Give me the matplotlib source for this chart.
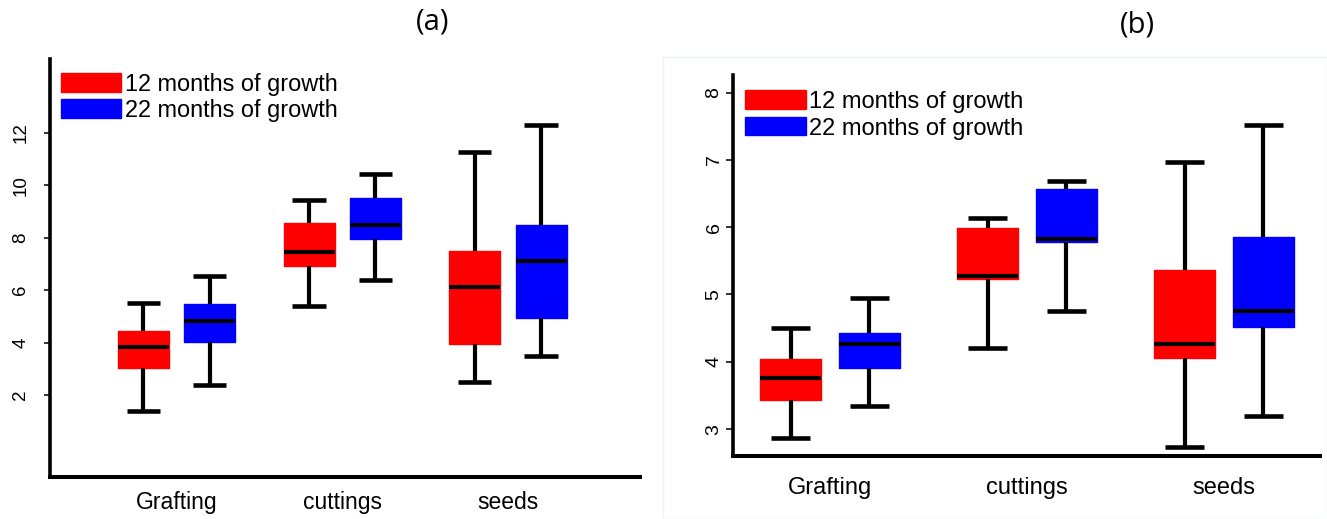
import matplotlib
matplotlib.use("Agg")
import matplotlib.pyplot as plt
from matplotlib.patches import Patch, Rectangle

# ---------------- data ----------------
categories = ['Grafting', 'cuttings', 'seeds']
series_labels = ['12 months of growth', '22 months of growth']
series_colors = ['#ff0000', '#0000ff']

# panel (a)
a12_whislo = [1.37, 5.40, 2.49]
a12_q1 = [3.02, 6.92, 3.96]
a12_med = [3.84, 7.47, 6.13]
a12_q3 = [4.46, 8.56, 7.48]
a12_whishi = [5.51, 9.44, 11.29]

a22_whislo = [2.38, 6.40, 3.48]
a22_q1 = [4.03, 7.94, 4.94]
a22_med = [4.84, 8.47, 7.12]
a22_q3 = [5.47, 9.52, 8.48]
a22_whishi = [6.53, 10.44, 12.30]

a_yticks = [2, 4, 6, 8, 10, 12]

# panel (b)
b12_whislo = [2.86, 4.21, 2.73]
b12_q1 = [3.43, 5.23, 4.05]
b12_med = [3.76, 5.27, 4.26]
b12_q3 = [4.04, 5.99, 5.37]
b12_whishi = [4.50, 6.13, 6.97]

b22_whislo = [3.34, 4.75, 3.20]
b22_q1 = [3.90, 5.78, 4.52]
b22_med = [4.27, 5.82, 4.75]
b22_q3 = [4.42, 6.56, 5.85]
b22_whishi = [4.95, 6.69, 7.52]

b_yticks = [3, 4, 5, 6, 7, 8]

# ---------------- figure ----------------
W, H = 1327, 519
fig = plt.figure(figsize=(W / 100, H / 100), dpi=100)
fig.patch.set_facecolor('white')


def px_axes(l, t, r, b):
    return fig.add_axes([l / W, 1 - b / H, (r - l) / W, (b - t) / H])


def make_stats(lo, q1, med, q3, hi):
    return [dict(whislo=lo[i], q1=q1[i], med=med[i], q3=q3[i], whishi=hi[i], fliers=[])
            for i in range(len(lo))]


def draw_panel(ax, series, offset, width, capw, color_list):
    for k, (st, col) in enumerate(zip(series, color_list)):
        pos = [i + 1 + (offset if k == 1 else -offset) for i in range(len(categories))]
        ax.bxp(st, positions=pos, widths=width, capwidths=capw, patch_artist=True,
               showfliers=False, manage_ticks=False,
               boxprops=dict(facecolor=col, edgecolor=col, linewidth=1.0, joinstyle='round'),
               medianprops=dict(color='black', linewidth=3.0, solid_capstyle='butt'),
               whiskerprops=dict(color='black', linewidth=3.0, solid_capstyle='butt'),
               capprops=dict(color='black', linewidth=3.3, solid_capstyle='butt'))


def style_axes(ax, yticks, ytick_fs, ylen, ypad, xfs, xpad, spine_lw):
    for s in ['top', 'right']:
        ax.spines[s].set_visible(False)
    ax.spines['left'].set_linewidth(spine_lw)
    ax.spines['bottom'].set_linewidth(spine_lw + 0.3)
    ax.set_yticks(yticks)
    ax.set_yticklabels([str(t) for t in yticks], fontsize=ytick_fs,
                       family=['Liberation Sans', 'DejaVu Sans'])
    ax.tick_params(axis='y', length=ylen, width=1.1, pad=ypad, labelrotation=90)
    for lab in ax.get_yticklabels():
        lab.set_va('center')
    ax.set_xticks([1, 2, 3])
    ax.set_xticklabels(categories, fontsize=xfs, family=['Liberation Sans', 'DejaVu Sans'])
    ax.tick_params(axis='x', length=0, pad=xpad)
    ax.set_facecolor('none')


# panel (a)
axA = px_axes(50, 59, 640, 477)
draw_panel(axA,
           [make_stats(a12_whislo, a12_q1, a12_med, a12_q3, a12_whishi),
            make_stats(a22_whislo, a22_q1, a22_med, a22_q3, a22_whishi)],
           0.20, 0.308, 0.20, series_colors)
axA.set_xlim(0.237, 3.797)
axA.set_ylim(-1.13, 14.82)
style_axes(axA, a_yticks, 13.5, 4.3, 10.5, 16.5, 10, 2.6)

# panel (b)
# faint frame around panel (b)
fig.patches.append(Rectangle((663 / W, 0), (W - 663) / W, 1 - 57 / H,
                             transform=fig.transFigure, fill=False,
                             edgecolor='#eef3f3', linewidth=1.0))
axB = px_axes(733, 75, 1320, 456)
draw_panel(axB,
           [make_stats(b12_whislo, b12_q1, b12_med, b12_q3, b12_whishi),
            make_stats(b22_whislo, b22_q1, b22_med, b22_q3, b22_whishi)],
           0.20, 0.31, 0.20, series_colors)
axB.set_xlim(0.508, 3.487)
axB.set_ylim(2.60, 8.26)
style_axes(axB, b_yticks, 14, 5, 2.5, 17, 15, 2.6)

# legends
handles = [Patch(facecolor=c, edgecolor=c) for c in series_colors]
axA.legend(handles, series_labels, loc='upper left',
           bbox_to_anchor=(61 / W, 1 - 73 / H), bbox_transform=fig.transFigure,
           frameon=False, prop=dict(family=['Liberation Sans', 'DejaVu Sans'], size=16.9),
           handlelength=2.55, handleheight=0.88, handletextpad=0.17,
           labelspacing=0.12, borderpad=0, borderaxespad=0)
axB.legend(handles, series_labels, loc='upper left',
           bbox_to_anchor=(745 / W, 1 - 90.5 / H), bbox_transform=fig.transFigure,
           frameon=False, prop=dict(family=['Liberation Sans', 'DejaVu Sans'], size=17.0),
           handlelength=2.6, handleheight=0.82, handletextpad=0.12,
           labelspacing=0.18, borderpad=0, borderaxespad=0)

# titles
fig.text(433 / W, 1 - 22 / H, '(a)', ha='center', va='center', fontsize=21,
         family=['Open Sans', 'DejaVu Sans'])
fig.text(1137 / W, 1 - 25 / H, '(b)', ha='center', va='center', fontsize=21,
         family=['Open Sans', 'DejaVu Sans'])

fig.savefig('out.png', dpi=100, facecolor='white')
